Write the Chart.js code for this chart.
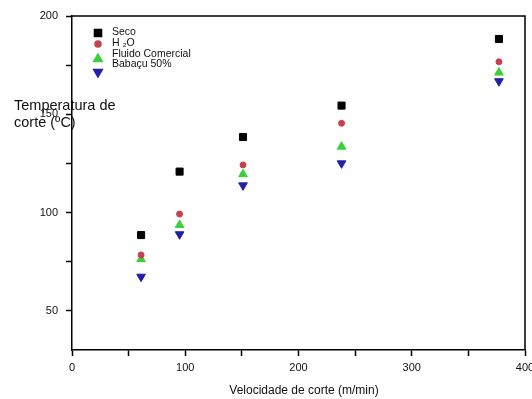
<!DOCTYPE html>
<html>
<head>
<meta charset="utf-8">
<script src="https://cdn.jsdelivr.net/npm/chart.js@4/dist/chart.umd.min.js"></script>
<style>
  html, body { margin: 0; padding: 0; background: #fff; }
  #caixa { width: 532px; height: 399px; }
</style>
</head>
<body>
<div id="caixa"><canvas id="grafico"></canvas></div>
<script>
// dados
const velocidade = [61, 95, 151, 238, 377];
const seco = [88.5, 120.8, 138.4, 154.4, 188.3];
const agua = [78.4, 99.2, 124.2, 145.4, 176.7];
const fluido = [76.2, 93.6, 119.5, 133.5, 171.2];
const babacu = [67.3, 88.9, 113.8, 125, 166.8];
const nomes = ['Seco', 'H \u2082O', 'Fluido Comercial', 'Babaçu 50%'];
const ticksX = [0, 50, 100, 150, 200, 250, 300, 350, 400];
const ticksY = [50, 75, 100, 125, 150, 175, 200];

const fonte = "'Liberation Sans', Arial, sans-serif";

function pontos(valores) {
    return velocidade.map((v, i) => ({ x: v, y: valores[i] }));
}

// moldura, títulos e legenda (como no Origin)
const extras = {
    id: 'extras',
    afterDatasetsDraw(chart) {
        const { ctx, chartArea: a } = chart;
        ctx.save();
        ctx.strokeStyle = '#000';
        ctx.lineWidth = 1.5;
        ctx.beginPath();
        ctx.moveTo(a.left, a.top);
        ctx.lineTo(a.right, a.top);
        ctx.lineTo(a.right, a.bottom);
        ctx.stroke();

        // legenda
        const posMarcador = [33, 44, 59, 72];
        const posTexto = [32, 43, 54, 64];
        ctx.font = '10.5px ' + fonte;
        ctx.textBaseline = 'middle';
        ctx.textAlign = 'left';
        chart.data.datasets.forEach((ds, i) => {
            ctx.fillStyle = ds.backgroundColor;
            ctx.strokeStyle = ds.borderColor;
            Chart.helpers.drawPoint(ctx, {
                pointStyle: ds.pointStyle,
                radius: ds.pointRadius,
                rotation: ds.pointRotation || 0,
                borderWidth: 1
            }, 98, posMarcador[i]);
            ctx.fillStyle = '#111';
            ctx.fillText(nomes[i], 112, posTexto[i]);
        });

        // títulos dos eixos
        ctx.fillStyle = '#111';
        ctx.font = '14.5px ' + fonte;
        ctx.fillText('Temperatura de', 14, 106);
        ctx.fillText('corte (ºC)', 14, 123);
        ctx.font = '12px ' + fonte;
        ctx.textAlign = 'center';
        ctx.fillText('Velocidade de corte (m/min)', 304, 391);
        ctx.restore();
    }
};

new Chart(document.getElementById('grafico'), {
    type: 'scatter',
    data: {
        datasets: [{
            label: nomes[0],
            data: pontos(seco),
            pointStyle: 'rect',
            pointRadius: 5,
            backgroundColor: '#000',
            borderColor: '#000',
        }, {
            label: nomes[1],
            data: pontos(agua),
            pointStyle: 'circle',
            pointRadius: 3,
            backgroundColor: '#c8404e',
            borderColor: '#c8404e',
        }, {
            label: nomes[2],
            data: pontos(fluido),
            pointStyle: 'triangle',
            pointRadius: 5,
            backgroundColor: '#3ccf3c',
            borderColor: '#3ccf3c',
        }, {
            label: nomes[3],
            data: pontos(babacu),
            pointStyle: 'triangle',
            pointRotation: 180,
            pointRadius: 5,
            backgroundColor: '#2020a8',
            borderColor: '#2020a8',
        }]
    },
    options: {
        responsive: true,
        maintainAspectRatio: false,
        animation: false,
        layout: { padding: { top: 16, right: 7, left: 0, bottom: 0 } },
        plugins: {
            legend: { display: false },
            tooltip: { enabled: false },
        },
        scales: {
            x: {
                type: 'linear',
                min: 0,
                max: 400,
                afterBuildTicks: s => { s.ticks = ticksX.map(v => ({ value: v })); },
                afterFit: s => { s.height = 49; s.paddingLeft = 0; s.paddingRight = 0; },
                ticks: {
                    color: '#111',
                    font: { family: fonte, size: 11 },
                    padding: 5,
                    maxRotation: 0,
                    autoSkip: false,
                    callback: v => (v % 100 === 0 ? v : '')
                },
                grid: { drawOnChartArea: false, tickLength: 6, tickColor: '#000', tickWidth: 1.5 },
                border: { color: '#000', width: 1.5 }
            },
            y: {
                min: 30,
                max: 200,
                afterBuildTicks: s => { s.ticks = ticksY.map(v => ({ value: v })); },
                afterFit: s => { s.width = 72; },
                ticks: {
                    color: '#111',
                    font: { family: fonte, size: 11 },
                    padding: 8,
                    autoSkip: false,
                    callback: v => (v % 50 === 0 ? v : '')
                },
                grid: { drawOnChartArea: false, tickLength: 6, tickColor: '#000', tickWidth: 1.5 },
                border: { color: '#000', width: 1.5 }
            }
        }
    },
    plugins: [extras]
});
</script>
</body>
</html>
